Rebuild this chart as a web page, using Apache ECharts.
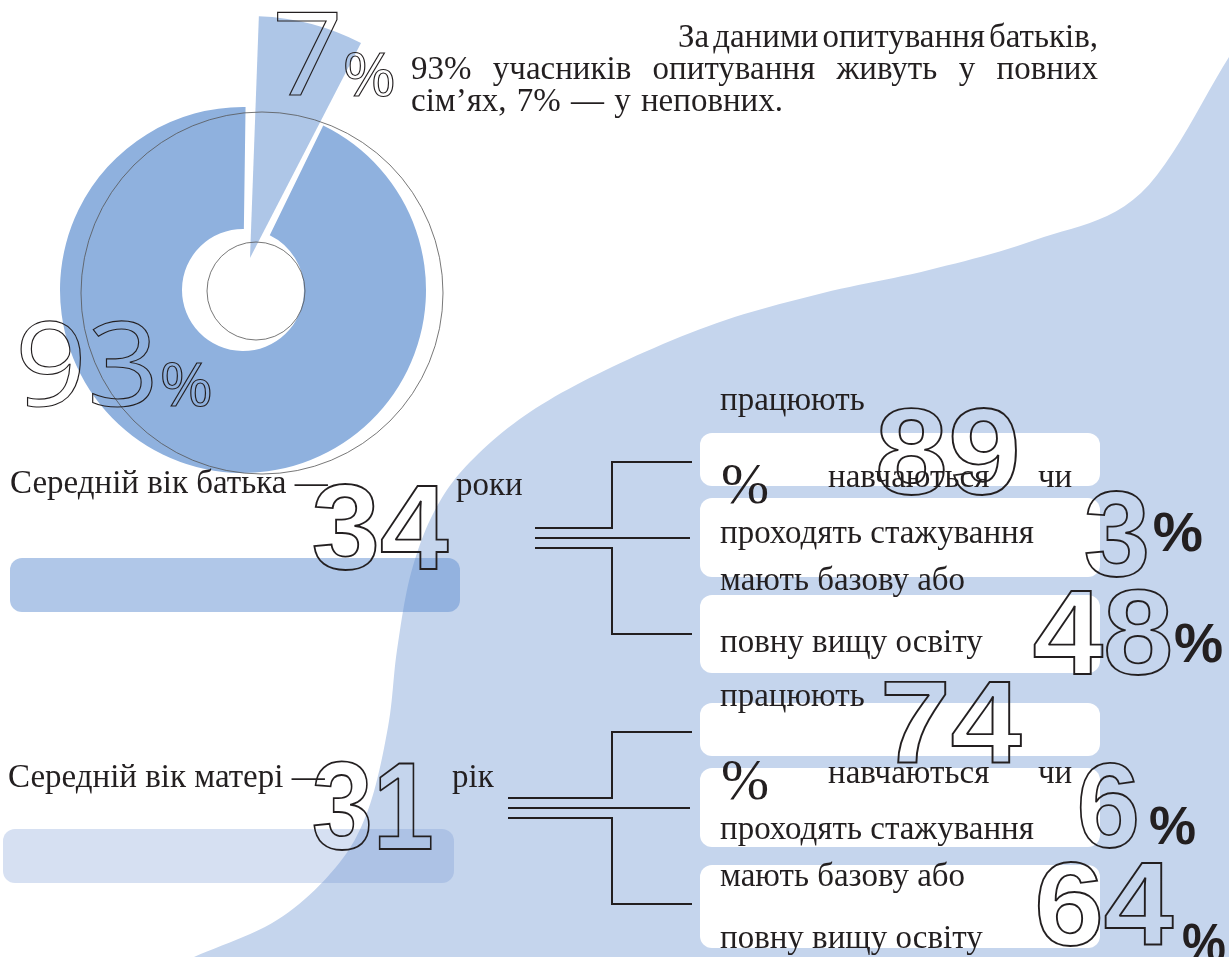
<!DOCTYPE html>
<html>
<head>
<meta charset="utf-8">
<script src="https://cdn.jsdelivr.net/npm/echarts@6/dist/echarts.min.js"></script>
<style>
  html, body { margin: 0; padding: 0; background: #fff; }
  #chart { width: 1229px; height: 957px; }
</style>
</head>
<body>
<div id="chart"></div>
<script>
// дані опитування батьків
const familyLabels = ['повні сім’ї', 'неповні сім’ї']
const familyShare = [93, 7]
const ageLabels = ['Середній вік батька', 'Середній вік матері']
const ageValues = [34, 31]
const ageUnits = ['роки', 'рік']
const fatherShares = [89, 3, 48]   // працюють, навчаються чи стажуються, вища освіта
const motherShares = [74, 6, 64]

const SERIF = '"Liberation Serif", "DejaVu Serif", serif'
const BOLD_NUM = '"Liberation Sans", Arial, sans-serif'
const LIGHT_NUM = '"Open Sans", "Noto Sans", sans-serif'
const INK = '#231f20'

const chart = echarts.init(document.getElementById('chart'))
const measure = document.createElement('canvas').getContext('2d')

// розмір основного тексту підбираємо за шириною рядка в оригіналі
measure.font = '100px ' + SERIF
const bodySize = 100 * 314 / measure.measureText('проходять стажування').width

// зсув середньої лінії над базовою для шрифту
function midOffset(font) {
  measure.font = font
  measure.textBaseline = 'alphabetic'
  const a = measure.measureText('Hx').actualBoundingBoxDescent
  measure.textBaseline = 'middle'
  const m = measure.measureText('Hx').actualBoundingBoxDescent
  return m - a
}
const bodyMid = midOffset(bodySize + 'px ' + SERIF)

// текст із засічками, y = базова лінія
function serif(text, x, baseline, size, align) {
  const s = size || bodySize
  const off = size ? midOffset(s + 'px ' + SERIF) : bodyMid
  return {
    type: 'text', x: x, y: baseline - off, z: 20,
    style: { text: text, font: s + 'px ' + SERIF, fill: INK, textAlign: align || 'left', textVerticalAlign: 'middle' }
  }
}
// рядок, вирівняний по ширині між x0 і x1
function justified(text, x0, x1, baseline) {
  measure.font = bodySize + 'px ' + SERIF
  measure.textBaseline = 'alphabetic'
  const words = text.split(' ')
  const w = words.map(s => measure.measureText(s).width)
  const gap = (x1 - x0 - w.reduce((a, b) => a + b, 0)) / (words.length - 1)
  let x = x0
  return words.map((s, i) => {
    const el = serif(s, x, baseline)
    x += w[i] + gap
    return el
  })
}
// великі цифри: вписуємо контур знаків у прямокутник [x0, y0, x1, y1]
function fitted(text, rect, family, weight, filled, lw) {
  const [x0, y0, x1, y1] = rect
  measure.font = weight + ' 100px ' + family
  measure.textBaseline = 'middle'
  const m = measure.measureText(String(text))
  const k = (y1 - y0) / (m.actualBoundingBoxAscent + m.actualBoundingBoxDescent)
  const sx = (x1 - x0) / ((m.actualBoundingBoxLeft + m.actualBoundingBoxRight) * k)
  return {
    type: 'text', z: 25,
    x: x0 + m.actualBoundingBoxLeft * k * sx,
    y: y0 + m.actualBoundingBoxAscent * k,
    scaleX: sx,
    style: {
      text: String(text), font: weight + ' ' + (100 * k) + 'px ' + family,
      fill: filled ? INK : 'rgba(0,0,0,0)', stroke: filled ? null : INK, lineWidth: lw || 0,
      textAlign: 'left', textVerticalAlign: 'middle'
    }
  }
}
const big = (text, rect) => fitted(text, rect, BOLD_NUM, 700, false, 1.8)
const pct = rect => fitted('%', rect, BOLD_NUM, 700, true)
const thin = (text, rect) => fitted(text, rect, LIGHT_NUM, 400, false, 1.1)

function line(points) {
  return { type: 'polyline', z: 15, shape: { points: points }, style: { stroke: INK, lineWidth: 2, fill: null } }
}
function box(x, y, w, h) {
  return { type: 'rect', z: 3, shape: { x: x, y: y, width: w, height: h, r: 12 }, style: { fill: '#fff' } }
}

// фонова хвиля (згладжена ламана)
const edge = [[1290, -40], [1229, 57], [1141, 193], [1035, 240], [929, 270], [823, 293], [717, 323], [612, 367],
  [530, 412], [470, 462], [435, 510], [411, 573], [397, 650], [388, 727], [368, 810], [336, 867], [277, 920], [194, 957], [120, 990]]
const wave = []
for (let i = 0; i < edge.length - 1; i++) {
  const p0 = edge[Math.max(i - 1, 0)], p1 = edge[i], p2 = edge[i + 1], p3 = edge[Math.min(i + 2, edge.length - 1)]
  const c1 = [p1[0] + (p2[0] - p0[0]) / 6, p1[1] + (p2[1] - p0[1]) / 6]
  const c2 = [p2[0] - (p3[0] - p1[0]) / 6, p2[1] - (p3[1] - p1[1]) / 6]
  for (let k = 0; k < 12; k++) {
    const t = k / 12, u = 1 - t
    wave.push([
      u * u * u * p1[0] + 3 * u * u * t * c1[0] + 3 * u * t * t * c2[0] + t * t * t * p2[0],
      u * u * u * p1[1] + 3 * u * u * t * c1[1] + 3 * u * t * t * c2[1] + t * t * t * p2[1]
    ])
  }
}
wave.push(edge[edge.length - 1], [1300, 1000], [1300, -40])

// абзац угорі
const paragraph = [
  ...justified('За даними опитування батьків,', 678, 1098, 47),
  ...justified(familyShare[0] + '% учасників опитування живуть у повних', 411, 1098, 79),
  ...justified('сім’ях, ' + familyShare[1] + '% — у неповних.', 411, 783, 111)
]

// блок статистики: рамки, дужка і підписи
function statBlock(top, textTop, bracketY, bracketX0, bottomY) {
  const t = top, s = textTop
  return [
    box(700, t, 400, 53), box(700, t + 65, 400, 79), box(700, t + 162, 400, bottomY - t - 162),
    line([[692, t + 29], [612, t + 29], [612, bracketY - 10], [bracketX0, bracketY - 10]]),
    line([[bracketX0, bracketY], [690, bracketY]]),
    line([[bracketX0, bracketY + 10], [612, bracketY + 10], [612, t + 201], [692, t + 201]]),
    serif('працюють', 720, s),
    serif('%', 721, s + 93, bodySize * 1.75),
    serif('навчаються', 828, s + 77),
    serif('чи', 1038, s + 77),
    serif('проходять стажування', 720, s + 133),
    serif('мають базову або', 720, s + 180),
    serif('повну вищу освіту', 720, s + 242)
  ]
}

const elements = [
  { type: 'polygon', z: 0, shape: { points: wave }, style: { fill: '#c5d5ed' } },
  { type: 'rect', z: 1, shape: { x: 10, y: 558, width: 450, height: 54, r: 12 }, style: { fill: 'rgba(97,143,209,0.5)' } },
  { type: 'rect', z: 1, shape: { x: 3, y: 829, width: 451, height: 54, r: 12 }, style: { fill: 'rgba(118,152,212,0.3)' } },
  { type: 'circle', z: 10, shape: { cx: 262, cy: 293, r: 181 }, style: { fill: null, stroke: '#555', lineWidth: 0.8 } },
  { type: 'circle', z: 10, shape: { cx: 256, cy: 291, r: 49 }, style: { fill: null, stroke: '#555', lineWidth: 0.8 } },
  ...paragraph,
  serif(ageLabels[0] + ' —', 10, 493),
  serif(ageUnits[0], 456, 495),
  serif(ageLabels[1] + ' —', 8, 787),
  serif(ageUnits[1], 452, 787),
  big(ageValues[0], [314, 485, 449, 570]),
  big(ageValues[1], [314, 762, 431, 850]),
  thin(familyShare[0], [21, 320, 153, 407]),
  thin('%', [162, 363, 210, 407]),
  thin(familyShare[1], [277, 11, 338, 95]),
  thin('%', [345, 52, 393, 97]),
  ...statBlock(433, 410, 538, 535, 673),
  ...statBlock(703, 706, 808, 508, 948),
  big(fatherShares[0], [879, 408, 1016, 495]),
  big(fatherShares[1], [1086, 492, 1146, 577]), pct([1154, 513, 1202, 552]),
  big(fatherShares[2], [1034, 590, 1170, 675]), pct([1175, 623, 1222, 663]),
  big(motherShares[0], [885, 680, 1022, 762]),
  big(motherShares[1], [1080, 763, 1136, 848]), pct([1150, 807, 1195, 845]),
  big(motherShares[2], [1038, 862, 1174, 946]), pct([1183, 923, 1225, 963])
]

const pieBase = { type: 'pie', silent: true, label: { show: false }, labelLine: { show: false }, emphasis: { disabled: true }, animation: false }

chart.setOption({
  animation: false,
  graphic: { elements: elements },
  series: [
    {
      ...pieBase, z: 2, center: [243, 290], radius: [61, 183], startAngle: 64,
      data: [
        { name: familyLabels[0], value: familyShare[0], itemStyle: { color: '#8fb1de' } },
        { name: familyLabels[1], value: familyShare[1], itemStyle: { color: 'rgba(0,0,0,0)' } }
      ]
    },
    {
      ...pieBase, z: 3, center: [250, 258], radius: [0, 242], startAngle: 62.7,
      data: [
        { name: familyLabels[0], value: familyShare[0], itemStyle: { color: 'rgba(0,0,0,0)' } },
        { name: familyLabels[1], value: familyShare[1], itemStyle: { color: '#aec6e7' } }
      ]
    }
  ]
})
</script>
</body>
</html>
